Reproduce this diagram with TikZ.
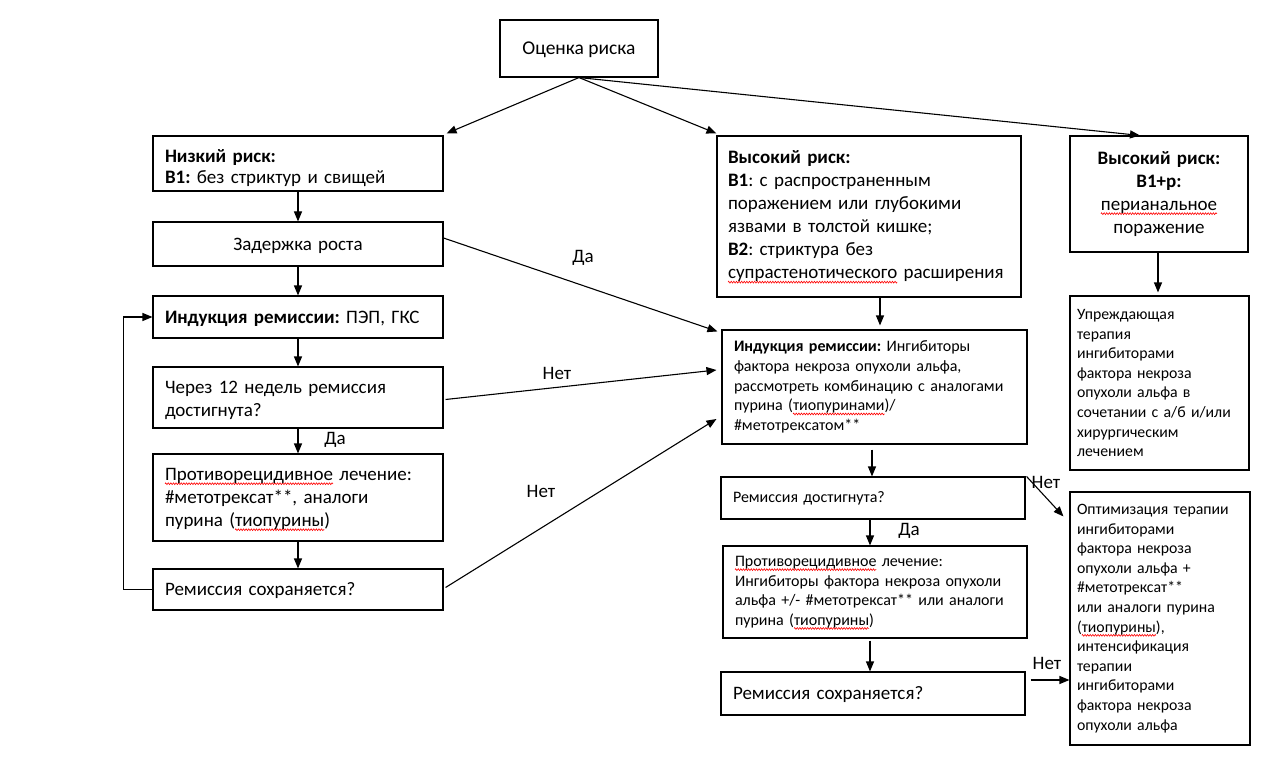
\documentclass[tikz,border=0pt]{standalone}
\usepackage{fontspec}
\setmainfont{Carlito}
\usetikzlibrary{arrows.meta,calc,decorations.pathmorphing}
\frenchspacing
\newsavebox\sqbox
\newcommand\sq[1]{\sbox\sqbox{#1}\leavevmode\rlap{\tikz[overlay,baseline=0pt]\draw[red,line width=0.6pt,decorate,decoration={zigzag,segment length=2.6pt,amplitude=0.9pt}] (0pt,-3.2pt) -- (\the\wd\sqbox,-3.2pt);}\usebox\sqbox}
\newcommand\bigtxt{\fontsize{19}{23}\selectfont}
\newcommand\smtxt{\fontsize{16}{19.6}\selectfont}
\newcommand\rttxt{\fontsize{15.8}{19.6}\selectfont}
\tikzset{
  box/.style={draw, line width=1.1pt, rectangle, inner xsep=12pt, inner ysep=0pt, align=left},
  pad/.style 2 args={execute at begin node={\rule{0pt}{#1}}, execute at end node={\rule[-#2]{0pt}{0pt}}},
  arr/.style={line width=1.1pt, -{Triangle[length=10pt,width=8pt]}},
  lbl/.style={font=\bigtxt, inner sep=0pt},
}
\begin{document}
\begin{tikzpicture}[x=1pt,y=-1pt]
\useasboundingbox[fill=white] (0,0) rectangle (1278,781);
% left column
\node[box, align=center, pad={17pt}{5pt}, minimum width=158pt, minimum height=57pt, font=\fontsize{19.5}{23}\selectfont] (risk) at (579,48.5) {Оценка риска};
\node[box, pad={24pt}{5pt}, minimum width=290pt, minimum height=55pt, text width=266pt, font=\fontsize{19}{21}\selectfont] (low) at (298,163.5) {\textbf{Низкий риск:}\\\textbf{B1:} без стриктур и свищей};
\node[box, align=center, pad={17pt}{5pt}, minimum width=290pt, minimum height=44pt, text width=266pt, font=\bigtxt] (delay) at (298,244) {Задержка роста};
\node[box, pad={17pt}{5pt}, minimum width=290pt, minimum height=42pt, text width=266pt, font=\bigtxt] (ind1) at (298,317) {\mbox{\textbf{Индукция ремиссии:} ПЭП, ГКС}};
\node[box, pad={19pt}{5pt}, minimum width=290pt, minimum height=61pt, text width=266pt, font=\bigtxt] (q12) at (298,397.5) {Через 12 недель ремиссия\\достигнута?};
\node[box, pad={17pt}{5pt}, minimum width=290pt, minimum height=87pt, text width=266pt, font=\bigtxt] (anti1) at (298,497.5) {\mbox{\sq{Противорецидивное} лечение:}\\\#метотрексат**, аналоги\\пурина (\sq{тиопурины})};
\node[box, pad={17pt}{5pt}, minimum width=290pt, minimum height=41pt, text width=266pt, font=\bigtxt] (keep1) at (298,589.5) {Ремиссия сохраняется?};
% middle column
\node[box, minimum width=304pt, minimum height=161pt, text width=282pt, inner xsep=11pt, font=\bigtxt] (high) at (869,216.5) {\textbf{Высокий риск:}\\\textbf{B1}: с распространенным\\\mbox{поражением или глубокими}\\\mbox{язвами в толстой кишке;}\\\textbf{B2}: стриктура без\\\mbox{\sq{супрастенотического} расширения}};
\node[box, minimum width=305pt, minimum height=114pt, text width=281pt, font=\smtxt] (ind2) at (874.5,387) {\mbox{\textbf{Индукция ремиссии:} Ингибиторы}\\\mbox{фактора некроза опухоли альфа,}\\\mbox{рассмотреть комбинацию с аналогами}\\пурина (\sq{тиопуринами})/\\\#метотрексатом**};
\node[box, minimum width=304pt, minimum height=42pt, text width=280pt, font=\smtxt] (ach2) at (873,498) {Ремиссия достигнута?};
\node[box, minimum width=304pt, minimum height=92pt, text width=280pt, font=\smtxt] (anti2) at (875,592) {\mbox{\sq{Противорецидивное} лечение:}\\\mbox{Ингибиторы фактора некроза опухоли}\\\mbox{альфа +/- \#метотрексат** или аналоги}\\пурина (\sq{тиопурины})};
\node[box, pad={17pt}{5pt}, minimum width=304pt, minimum height=43pt, text width=280pt, font=\bigtxt] (keep2) at (873,693.5) {Ремиссия сохраняется?};
% right column
\node[box, align=center, minimum width=178pt, minimum height=116pt, text width=160pt, inner xsep=9pt, font=\bigtxt] (highp) at (1159,194) {\textbf{Высокий риск:}\\\textbf{B1+p:}\\\sq{перианальное}\\поражение};
\node[box, minimum width=179pt, minimum height=174pt, text width=165pt, inner xsep=7pt, font=\rttxt] (pre) at (1159.5,383) {Упреждающая\\терапия\\ингибиторами\\фактора некроза\\опухоли альфа в\\\mbox{сочетании с а/б и/или}\\хирургическим\\лечением};
\node[box, minimum width=180pt, minimum height=253pt, text width=166pt, inner xsep=7pt, font=\rttxt] (opt) at (1160,618.5) {\mbox{Оптимизация терапии}\\ингибиторами\\фактора некроза\\опухоли альфа +\\\#метотрексат**\\\mbox{или аналоги пурина}\\(\sq{тиопурины}),\\интенсификация\\терапии\\ингибиторами\\фактора некроза\\опухоли альфа};
% connectors from risk
\draw[arr] (risk.south) -- ([xshift=3pt,yshift=2pt]low.north east);
\draw[arr] (risk.south) -- ([yshift=2pt]high.north west);
\draw[arr] (risk.south) -- ([xshift=-19pt]highp.north);
% left chain
\draw[arr] (low.south) -- (delay.north);
\draw[arr] (delay.south) -- (ind1.north);
\draw[arr] (ind1.south) -- (q12.north);
\draw[arr] (q12.south) -- (anti1.north);
\draw[arr] (anti1.south) -- (keep1.north);
\draw[arr] (keep1.west) -- ++(-29,0) |- (ind1.west);
% cross arrows
\draw[arr] ([yshift=6pt]delay.east) -- ([xshift=-4pt,yshift=-2pt]ind2.north west);
\draw[arr] ([xshift=2pt,yshift=-2pt]q12.east) -- ([xshift=-5pt,yshift=17pt]ind2.west);
\draw[arr] ([xshift=2pt,yshift=2pt]keep1.east) -- ([xshift=-5pt,yshift=-32pt]ind2.west);
% middle chain
\draw[arr] ([xshift=11pt]high.south) -- ([xshift=5.5pt,yshift=4pt]ind2.north);
\draw[arr] ([xshift=-2.5pt,yshift=-5pt]ind2.south) -- ([xshift=-1pt]ach2.north);
\draw[arr] ([xshift=-3pt]ach2.south) -- ([xshift=-5pt]anti2.north);
\draw[arr] ([xshift=-5pt,yshift=-2pt]anti2.south) -- ([xshift=-3pt]keep2.north);
% right
\draw[arr] ([xshift=-1pt]highp.south) -- ([xshift=-1.5pt,yshift=3pt]pre.north);
\draw[arr] ([xshift=1pt]ach2.north east) -- ([xshift=-6pt,yshift=-25pt]opt.north west);
\coordinate (k2) at ($(keep2.east)+(5,-13.5)$);
\draw[arr] (k2) -- (k2 -| opt.west);
% labels
\node[lbl] (l1) at (583,258) {Да};
\node[lbl] (l2) at (557,373) {Нет};
\node[lbl] (l3) at (541,491) {Нет};
\node[lbl] (l4) at (335,440) {Да};
\node[lbl] (l5) at (909,531) {Да};
\node[lbl] (l6) at (1046,482) {Нет};
\node[lbl] (l7) at (1047,663) {Нет};
\end{tikzpicture}
\end{document}
